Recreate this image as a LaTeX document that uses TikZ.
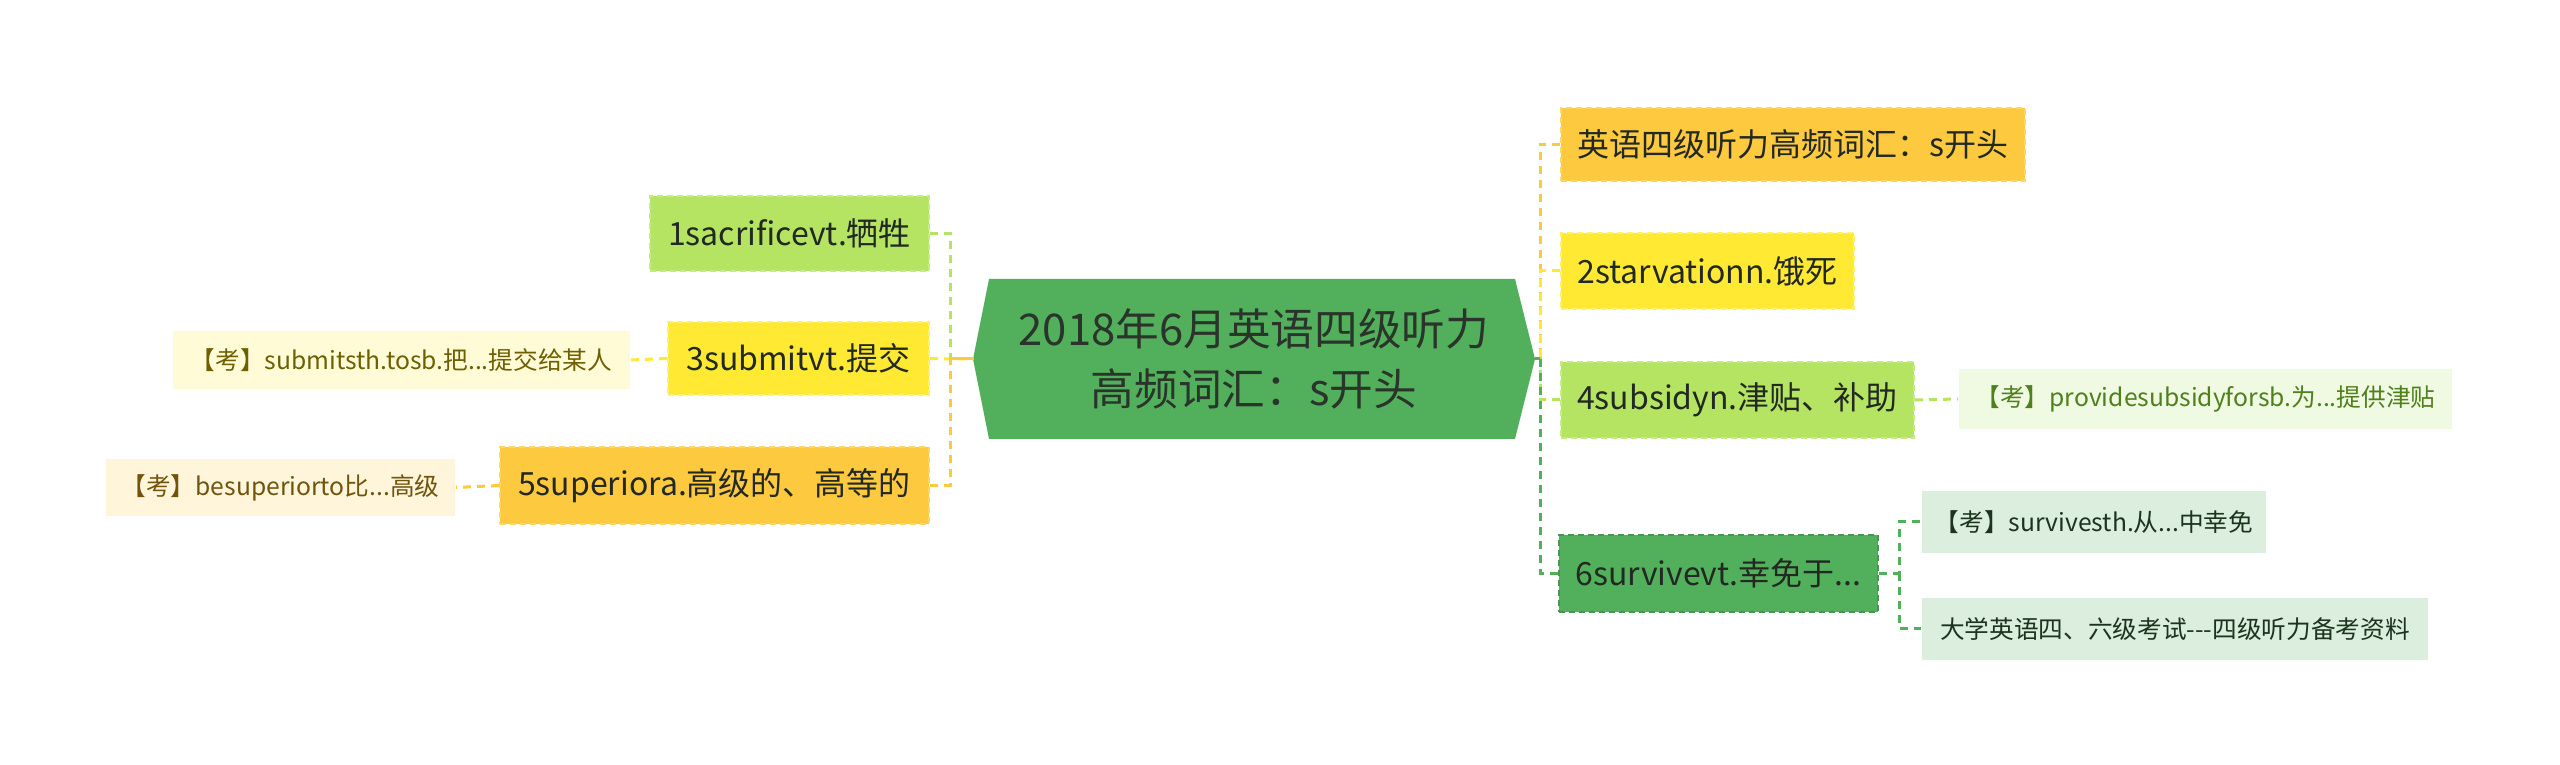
\documentclass[tikz,border=0pt]{standalone}
\usepackage{fontspec}
\setmainfont{Noto Sans CJK SC}
\definecolor{cgreen}{RGB}{82,176,92}
\definecolor{cgreenb}{RGB}{70,152,80}
\definecolor{corange}{RGB}{253,201,63}
\definecolor{corangeb}{RGB}{255,214,100}
\definecolor{cyellow}{RGB}{255,233,51}
\definecolor{cyellowb}{RGB}{255,240,110}
\definecolor{clgreen}{RGB}{180,228,98}
\definecolor{clgreenb}{RGB}{196,236,128}
\definecolor{pyellow}{RGB}{255,251,214}
\definecolor{porange}{RGB}{255,245,218}
\definecolor{plgreen}{RGB}{240,249,226}
\definecolor{pgreen}{RGB}{220,238,222}
\definecolor{tdark}{RGB}{34,40,34}
\definecolor{tcenter}{RGB}{42,52,42}
\definecolor{tolive}{RGB}{110,95,0}
\definecolor{tbrown}{RGB}{112,84,12}
\definecolor{tlgreen}{RGB}{78,128,28}
\definecolor{tgreen}{RGB}{28,52,30}
\tikzset{
  box/.style={rectangle, inner sep=0pt, align=center, line width=0.6pt, dash pattern=on 1.8pt off 1.2pt},
  lvone/.style={box, font=\fontsize{9.6}{11}\selectfont, text=tdark},
  lvtwo/.style={box, font=\fontsize{7.4}{9}\selectfont},
  conn/.style={line width=0.9pt, dash pattern=on 2.4pt off 1.8pt},
}
\begin{document}
\begin{tikzpicture}[x=0.3pt,y=-0.3pt]
\useasboundingbox (0,0) rectangle (2560,765);
% central hexagon
\coordinate (cL) at (973,359);
\coordinate (cR) at (1535,359);
\fill[cgreen] (cL) -- (989,279) -- (1515,279) -- (cR) -- (1515,439) -- (989,439) -- cycle;
\node[align=center, text=tcenter, font=\fontsize{13.1}{17.8}\selectfont] (c) at (1254,359) {2018年6月英语四级听力\\高频词汇：s开头};
% right level one
\node[lvone, fill=corange, draw=corangeb, minimum width=139.2pt, minimum height=21.9pt] (n1) at (1793,144.5) {英语四级听力高频词汇：s开头};
\node[lvone, fill=cyellow, draw=cyellowb, minimum width=87.9pt, minimum height=22.8pt] (n2) at (1707.5,271) {2starvationn.饿死};
\node[lvone, fill=clgreen, draw=clgreenb, minimum width=105.9pt, minimum height=22.8pt] (n4) at (1737.5,400) {4subsidyn.津贴、补助};
\node[lvone, fill=cgreen, draw=cgreenb, minimum width=95.7pt, minimum height=23.1pt] (n6) at (1718.5,573.5) {6survivevt.幸免于...};
% right level two
\node[lvtwo, fill=plgreen, text=tlgreen, minimum width=147.9pt, minimum height=18pt] (n4c) at (2205.5,399) {【考】providesubsidyforsb.为...提供津贴};
\node[lvtwo, fill=pgreen, text=tgreen, minimum width=103.2pt, minimum height=18.6pt] (n6a) at (2094,522) {【考】survivesth.从...中幸免};
\node[lvtwo, fill=pgreen, text=tgreen, minimum width=151.8pt, minimum height=18.6pt] (n6b) at (2175,629) {大学英语四、六级考试-{}-{}-四级听力备考资料};
% left level one
\node[lvone, fill=clgreen, draw=clgreenb, minimum width=83.7pt, minimum height=22.5pt] (l1) at (789.5,233.5) {1sacrificevt.牺牲};
\node[lvone, fill=cyellow, draw=cyellowb, minimum width=78.3pt, minimum height=21.9pt] (l3) at (798.5,358.5) {3submitvt.提交};
\node[lvone, fill=corange, draw=corangeb, minimum width=128.7pt, minimum height=23.1pt] (l5) at (714.5,485.5) {5superiora.高级的、高等的};
% left level two
\node[lvtwo, fill=pyellow, text=tolive, minimum width=137.1pt, minimum height=17.4pt] (l3c) at (401.5,360) {【考】submitsth.tosb.把...提交给某人};
\node[lvtwo, fill=porange, text=tbrown, minimum width=104.7pt, minimum height=17.1pt] (l5c) at (280.5,487.5) {【考】besuperiorto比...高级};
% junctions
\coordinate (jr) at (1540,359);
\coordinate (jl) at (950,359);
\coordinate (j6) at (1899,573.5);
% right connectors
\draw[conn, corange] (n1.west) -| (jr) -- (cR);
\draw[conn, cyellow] (n2.west) -| (jr) -- (cR);
\draw[conn, clgreen] (n4.west) -| (jr) -- (cR);
\draw[conn, cgreen] (n6.west) -| (jr) -- (cR);
\draw[line width=0.9pt, cgreen] (cR) -- (jr);
\draw[conn, clgreen] (n4.east) -- (n4c.west);
\draw[conn, cgreen] (n6.east) -- (j6) |- (n6a.west);
\draw[conn, cgreen] (j6) |- (n6b.west);
% left connectors
\draw[conn, clgreen] (l1.east) -| (jl) -- (cL);
\draw[conn, cyellow] (l3.east) -- (jl) -- (cL);
\draw[conn, corange] (l5.east) -| (jl) -- (cL);
\draw[line width=0.9pt, corange] (cL) -- (jl);
\draw[conn, cyellow] (l3.west) -- (l3c.east);
\draw[conn, corange] (l5.west) -- (l5c.east);
\end{tikzpicture}
\end{document}
